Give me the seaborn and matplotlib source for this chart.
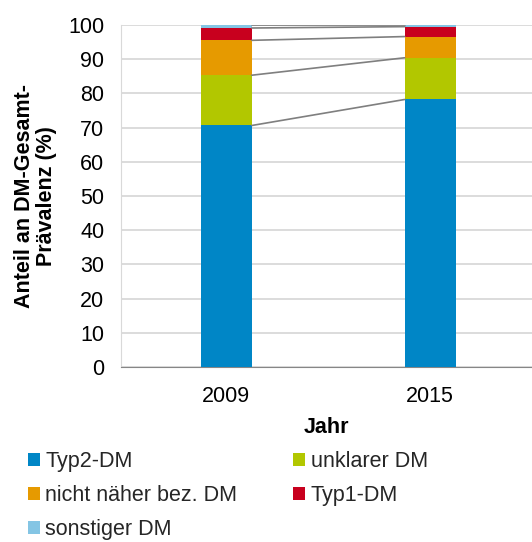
import numpy as np
import pandas as pd
import matplotlib.pyplot as plt
import seaborn as sns
from matplotlib.patches import Patch

# Daten (Anteile in %, von unten nach oben gestapelt)
jahre = ['2009', '2015']
kategorien = ['Typ2-DM', 'unklarer DM', 'nicht näher bez. DM', 'Typ1-DM', 'sonstiger DM']
typ2 = [70.6, 78.2]
unklar = [14.7, 12.2]
nicht_naeher = [10.2, 6.2]
typ1 = [3.6, 2.9]
sonstig = [0.9, 0.5]

farben = ['#0086C6', '#B2C700', '#E69A00', '#C8001E', '#84C5E4']

sns.set_style('white')
plt.rcParams['font.family'] = ['Liberation Sans', 'DejaVu Sans']
fs = 15.5

werte = np.array([typ2, unklar, nicht_naeher, typ1, sonstig])
kumuliert = np.cumsum(werte, axis=0)

fig = plt.figure(figsize=(5.32, 5.42), dpi=100)
ax = fig.add_axes([0.2275, 0.323, 0.7725, 0.631])

# gestapelte Balken: kumulierte Summen von oben nach unten übereinander zeichnen
for i in range(len(kategorien) - 1, -1, -1):
    df = pd.DataFrame({'Jahr': jahre, 'Wert': kumuliert[i]})
    sns.barplot(data=df, x='Jahr', y='Wert', color=farben[i], width=0.25,
                saturation=1, ax=ax, zorder=3, linewidth=0)

# Verbindungslinien zwischen den Balken
b = 0.125
for i in range(len(kategorien)):
    ax.plot([0 + b, 1 - b], [kumuliert[i][0], kumuliert[i][1]],
            color='#7f7f7f', linewidth=1.2, zorder=4)

ax.set_xlim(-0.517, 1.5)
ax.set_ylim(0, 100)
ax.set_yticks(range(0, 101, 10))
ax.yaxis.grid(True, color='#d9d9d9', linewidth=1.3, zorder=0)
ax.set_axisbelow(True)
for s in ['top', 'right']:
    ax.spines[s].set_visible(False)
ax.spines['left'].set_color('#d9d9d9')
ax.spines['bottom'].set_color('#868686')
ax.tick_params(axis='both', labelsize=fs, colors='black')
ax.tick_params(axis='x', length=0, pad=14)
ax.tick_params(axis='y', length=3, width=1, color='#d9d9d9', pad=9)
ax.set_xlabel('Jahr', fontsize=fs, fontweight='bold', labelpad=7, color='black')
ax.set_ylabel('Anteil an DM-Gesamt-\nPrävalenz (%)', fontsize=fs,
              fontweight='bold', labelpad=8, color='black', linespacing=1.1)

# Legende zeilenweise wie im Original
reihenfolge = [0, 2, 4, 1, 3]
handles = [Patch(facecolor=farben[i], edgecolor='none') for i in reihenfolge]
labels = [kategorien[i] for i in reihenfolge]
fig.legend(handles, labels, loc='upper left', bbox_to_anchor=(0.053, 0.167),
           ncol=2, frameon=False, fontsize=fs, handlelength=0.55,
           handleheight=0.55, handletextpad=0.25, columnspacing=2.6,
           labelspacing=0.6, borderaxespad=0, borderpad=0)

fig.savefig('out.png', dpi=100)
